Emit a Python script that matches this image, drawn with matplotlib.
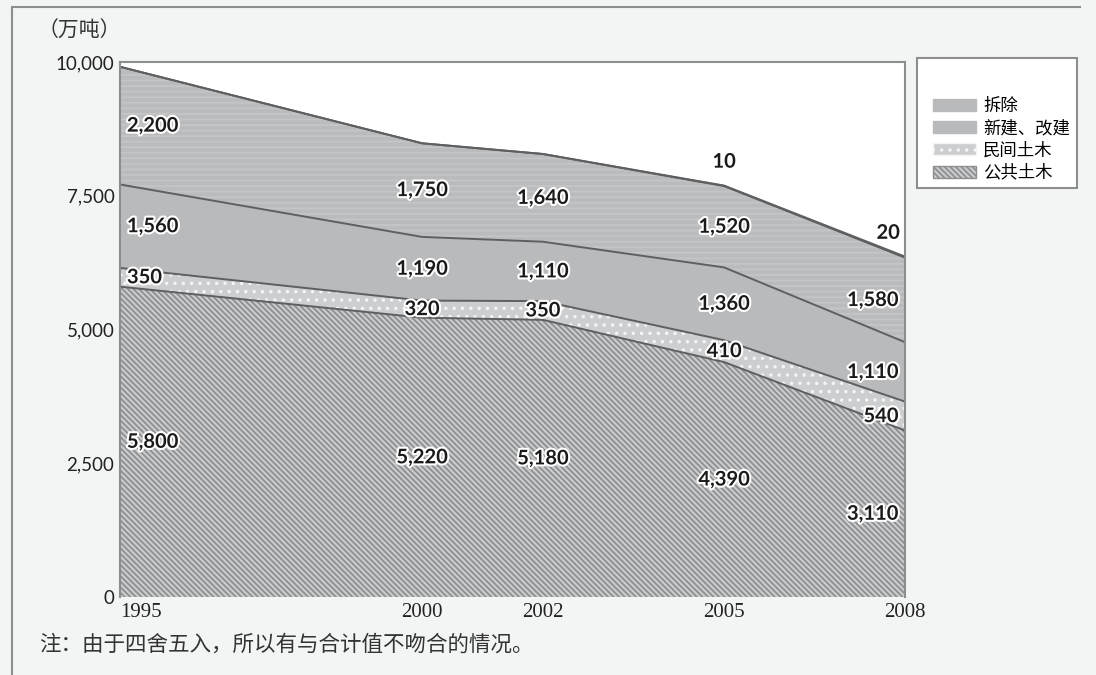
import matplotlib.pyplot as plt
import matplotlib.patheffects as pe
from matplotlib.patches import Patch, Rectangle
from matplotlib.lines import Line2D
import numpy as np

plt.rcParams['font.family'] = ['Noto Sans CJK SC', 'DejaVu Sans']
plt.rcParams['hatch.linewidth'] = 1.3

# 年份与各类别数量（万吨）
years = [1995, 2000, 2002, 2005, 2008]
public_civil = [5800, 5220, 5180, 4390, 3110]    # 公共土木
private_civil = [350, 320, 350, 410, 540]        # 民间土木
new_rebuild = [1560, 1190, 1110, 1360, 1110]     # 新建、改建
demolition = [2200, 1750, 1640, 1520, 1580]      # 拆除
other = [0, 0, 0, 10, 20]                        # 其他

layer_names = ['公共土木', '民间土木', '新建、改建', '拆除']
y_ticks = [0, 2500, 5000, 7500, 10000]
y_tick_labels = ['0', '2,500', '5,000', '7,500', '10,000']

bg = '#f3f4f4'
fig = plt.figure(figsize=(10.96, 6.75), dpi=100, facecolor=bg)
ax = fig.add_axes([0.1095, 0.1156, 0.7165, 0.7926])
ax.set_facecolor('white')

layers = [public_civil, private_civil, new_rebuild, demolition, other]
bottoms = np.vstack([np.zeros(len(years))] + [np.cumsum(layers, axis=0)[i] for i in range(len(layers))])

hatch_public = '\\' * 6
styles = [
    dict(facecolor='#cbcccd', edgecolor='#8e8f90', hatch=hatch_public),
    dict(facecolor='#cdcecf', edgecolor='#f4f4f4', hatch='..'),
    dict(facecolor='#b9babb', edgecolor='#b9babb', hatch=None),
    dict(facecolor='#babbbc', edgecolor='#c4c5c6', hatch='---'),
    dict(facecolor='#4a4a4a', edgecolor='#4a4a4a', hatch=None),
]
for i, st in enumerate(styles):
    ax.fill_between(years, bottoms[i], bottoms[i + 1], linewidth=0, **st)

# 分界线
for i in range(1, len(bottoms)):
    ax.plot(years, bottoms[i], color='#5e5f60', lw=1.4)

ax.set_xlim(1995, 2008)
ax.set_ylim(0, 10000)
for s in ax.spines.values():
    s.set_color('#8c8d8e')
    s.set_linewidth(1.5)
ax.spines['bottom'].set_visible(False)

ax.set_yticks(y_ticks)
ax.set_yticklabels(y_tick_labels, fontsize=13.5, family=['Lato', 'DejaVu Sans'], color='#222222')
ax.set_xticks(years)
ax.set_xticklabels([str(y) for y in years], fontsize=15, family=['Liberation Serif'], color='#222222')
ax.tick_params(length=0, pad=4)
ax.get_xticklabels()[0].set_horizontalalignment('left')

halo = [pe.withStroke(linewidth=3, foreground='white')]
label_font = dict(fontsize=14.5, fontweight='bold', family=['Lato', 'DejaVu Sans'],
                  color='#1a1a1a', path_effects=halo)

for li in range(4):
    for j, yr in enumerate(years):
        val = layers[li][j]
        mid = (bottoms[li][j] + bottoms[li + 1][j]) / 2
        if j == 0:
            ha, dx = 'left', 5
        elif j == len(years) - 1:
            ha, dx = 'right', -5
        else:
            ha, dx = 'center', 0
        ax.annotate(f'{val:,}', (yr, mid), xytext=(dx, 0), textcoords='offset points',
                    ha=ha, va='center', **label_font)

# 顶部很小的数量
for j, yr in enumerate(years):
    if other[j] > 0:
        ha = 'right' if j == len(years) - 1 else 'center'
        dx = -4 if j == len(years) - 1 else 0
        ax.annotate(f'{other[j]:,}', (yr, bottoms[-1][j]), xytext=(dx, 10),
                    textcoords='offset points', ha=ha, va='bottom', **label_font)

fig.text(0.034, 0.955, '（万吨）', fontsize=15, color='#333333', va='center')
fig.text(0.036, 0.045, '注：由于四舍五入，所以有与合计值不吻合的情况。', fontsize=15.5,
         color='#333333', va='center')

# 图例
fig.patches.append(Rectangle((917 / 1096, 1 - 188 / 675), 160 / 1096, 130 / 675,
                             transform=fig.transFigure, facecolor='white',
                             edgecolor='#8c8d8e', lw=1.5))
handles = [
    Patch(facecolor='#b9babb', edgecolor='#b9babb', label='拆除'),
    Patch(facecolor='#b9babb', edgecolor='#b9babb', label='新建、改建'),
    Patch(facecolor='#cdcecf', edgecolor='#f4f4f4', hatch='..', label='民间土木'),
    Patch(facecolor='#cbcccd', edgecolor='#8e8f90', hatch=hatch_public, label='公共土木'),
]
fig.legend(handles=handles, loc='upper left', bbox_to_anchor=(924 / 1096, 1 - 88 / 675),
           frameon=False, fontsize=12.5, handlelength=2.5, handleheight=0.7,
           labelspacing=0.25, handletextpad=0.4, borderpad=0)

# 外框线
fig.add_artist(Line2D([12 / 1096, 12 / 1096], [0, 1 - 7 / 675], transform=fig.transFigure,
                      color='#8c8d8e', lw=1.5))
fig.add_artist(Line2D([12 / 1096, 1080 / 1096], [1 - 7 / 675, 1 - 7 / 675],
                      transform=fig.transFigure, color='#8c8d8e', lw=1.5))

fig.savefig('out.png', dpi=100, facecolor=bg)
